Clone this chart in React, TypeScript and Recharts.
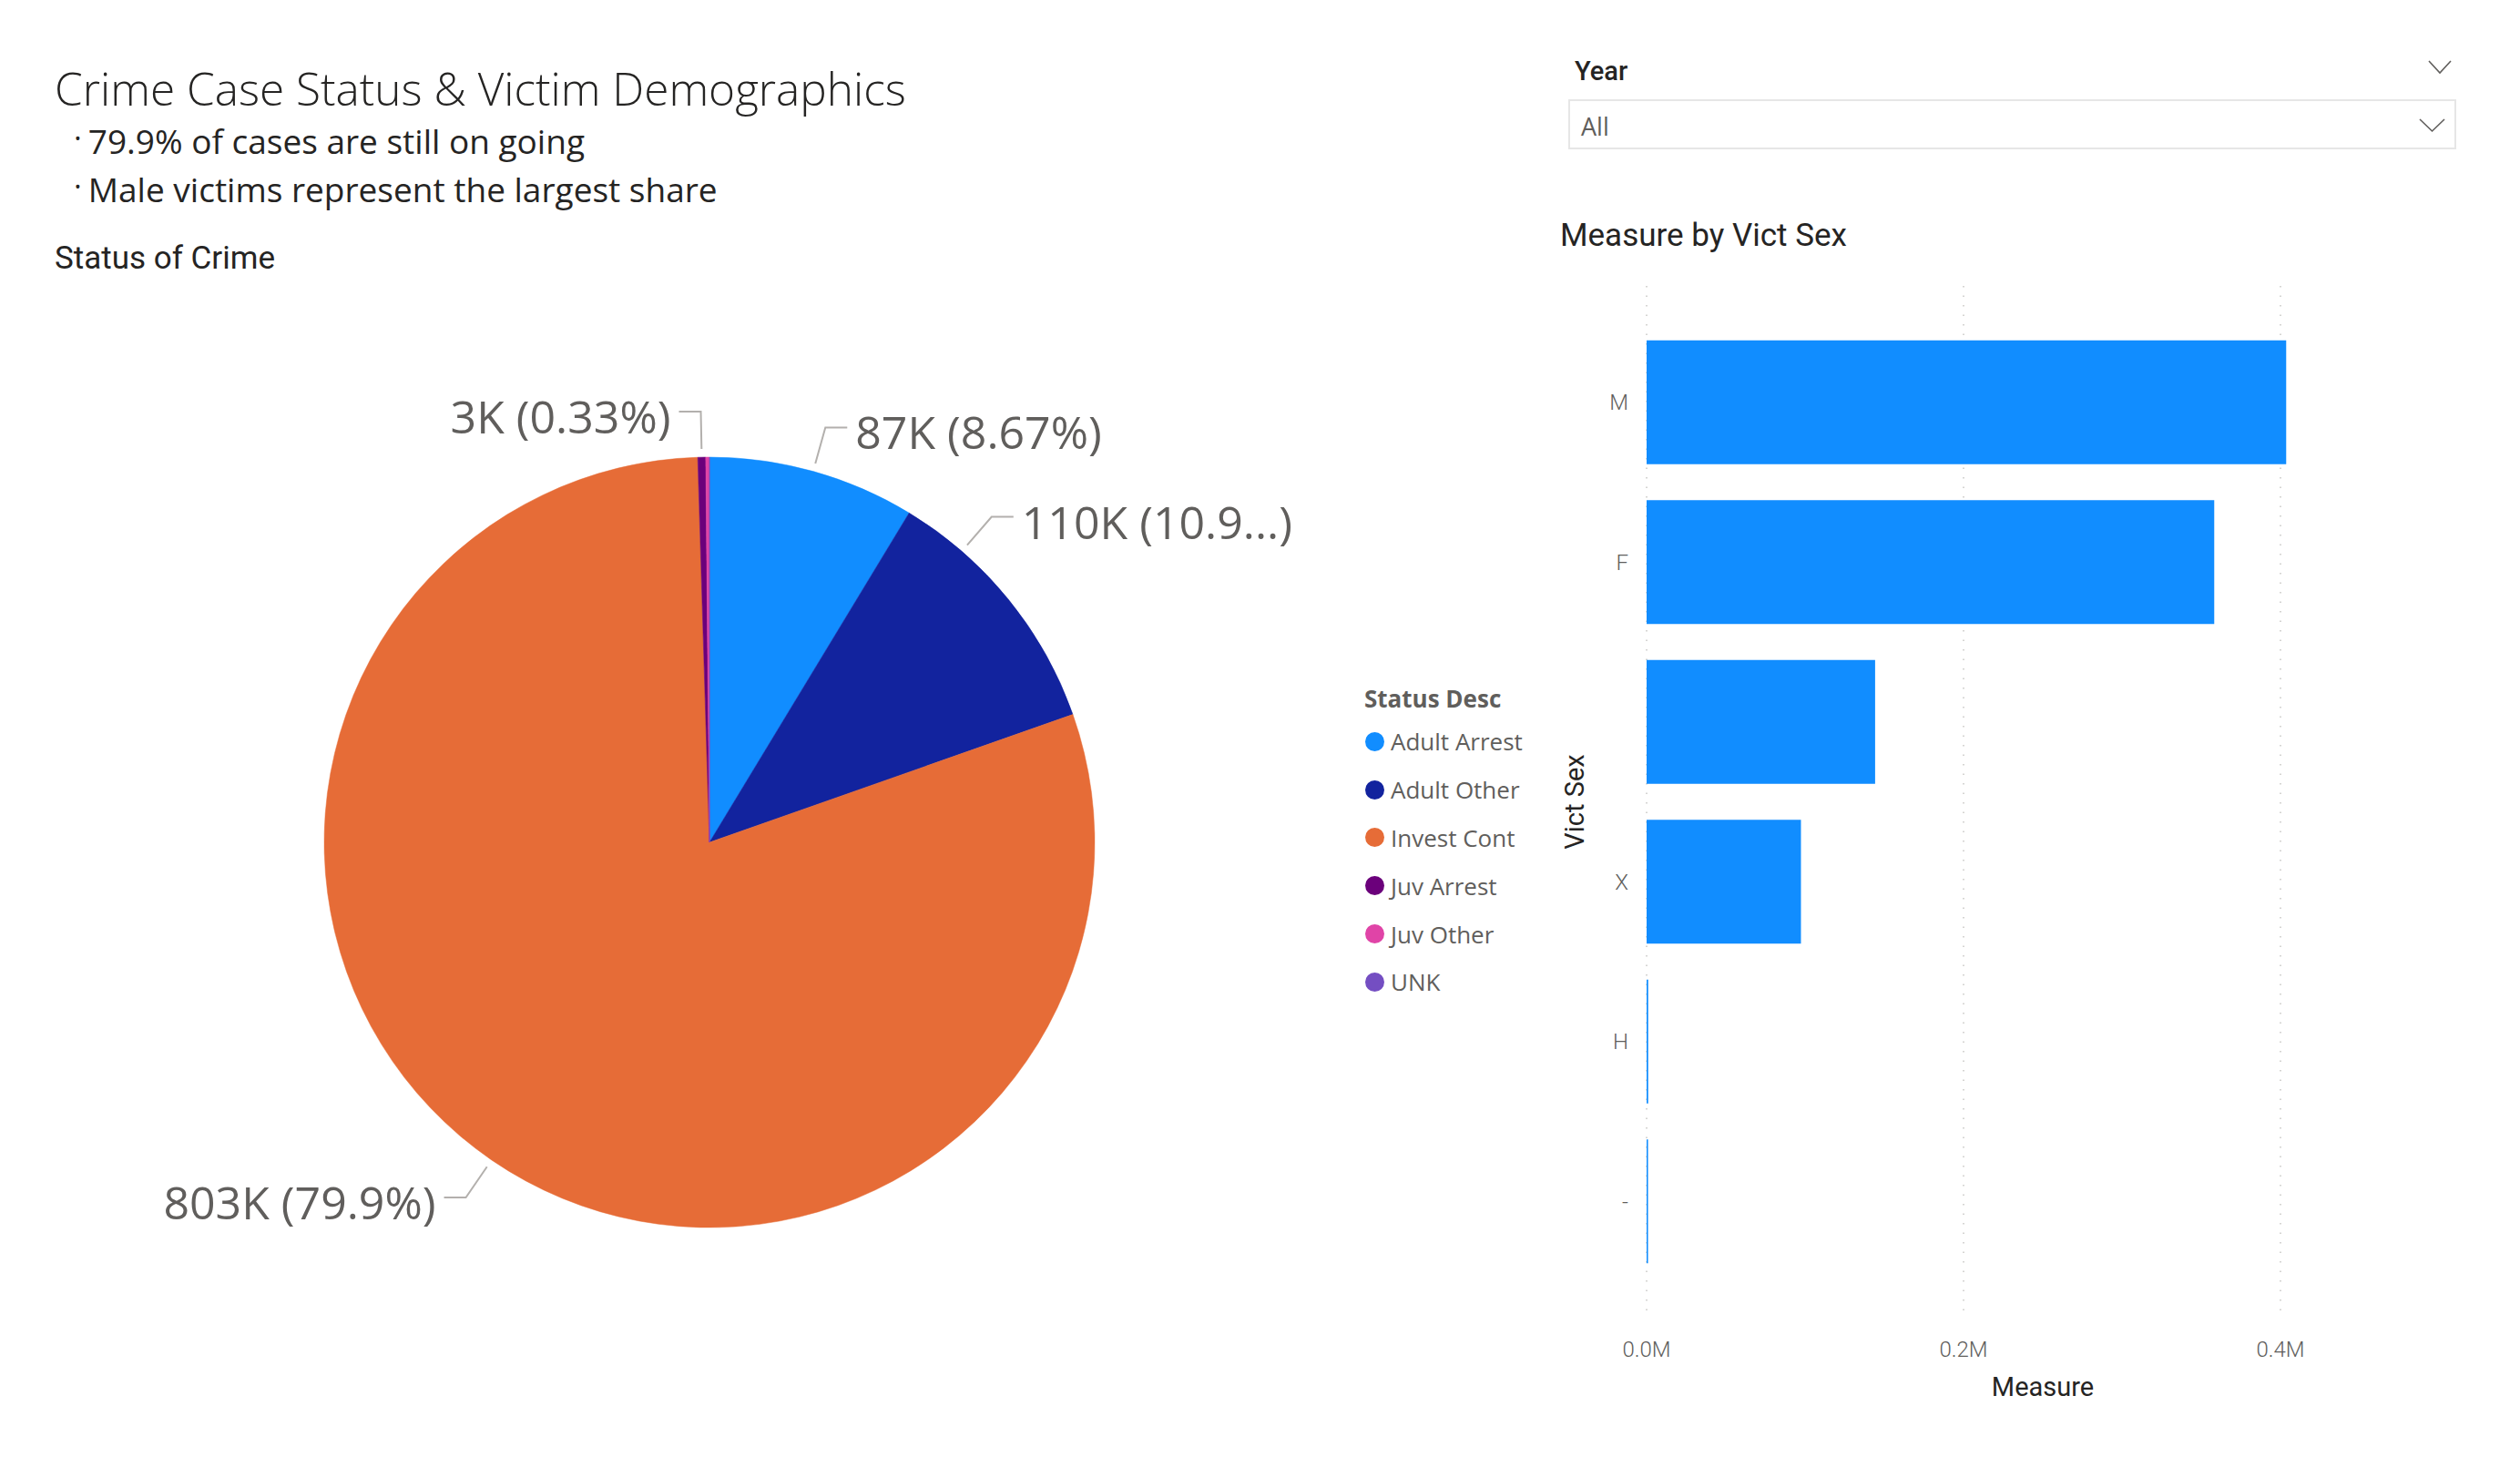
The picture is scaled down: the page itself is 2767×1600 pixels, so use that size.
import React from "react";
import { PieChart, Pie, Cell, Legend, BarChart, Bar, XAxis, YAxis, CartesianGrid } from "recharts";

// ---------- data ----------
const statusNames = ["Adult Arrest", "Adult Other", "Invest Cont", "Juv Arrest", "Juv Other", "UNK"];
const statusCounts = [87150, 109950, 802950, 3300, 1550, 10];
const statusColors = ["#118DFF", "#12239E", "#E66C37", "#6B007B", "#E044A7", "#744EC2"];

const sexCategories = ["M", "F", "", "X", "H", "-"];
const sexMeasures = [403600, 358200, 144200, 97400, 1000, 900];
const measureTicks = [0, 200000, 400000];
const measureDomain = [0, 500000];

const headline = "Crime Case Status & Victim Demographics";
const bullets = ["79.9% of cases are still on going", "Male victims represent the largest share"];
const pieTitle = "Status of Crime";
const barTitle = "Measure by Vict Sex";
const legendTitle = "Status Desc";
const slicerTitle = "Year";
const slicerValue = "All";

const pieData = statusNames.map((name, i) => ({ name, value: statusCounts[i], color: statusColors[i] }));
const barData = sexCategories.map((sex, i) => ({ sex, measure: sexMeasures[i] }));

// ---------- styles ----------
const SANS = "'Segoe UI', 'Open Sans', sans-serif";
const DIN = "Roboto, 'Open Sans', sans-serif";
const DARK = "#252423";
const GRAY = "#605E5C";

const RAD = Math.PI / 180;
const LABEL_MIN_PERCENT = 0.003;
const LABEL_ANGLE_SHIFT: Record<string, number> = { "Adult Other": 10 };
const LABEL_RIGHT_LIMIT = 1430;
const LABEL_FONT = 50;

function fmtK(v: number) {
  return Math.round(v / 1000) + "K";
}
function fmtPct(p: number) {
  let s = (p * 100).toFixed(2);
  s = s.replace(/0+$/, "").replace(/\.$/, "");
  return s + "%";
}
function estimateWidth(s: string, size: number) {
  let w = 0;
  for (const ch of s) {
    if (/[0-9]/.test(ch)) w += 0.55;
    else if (ch === "K") w += 0.58;
    else if (ch === " ") w += 0.26;
    else if ("().".includes(ch)) w += 0.3;
    else if (ch === "%") w += 0.8;
    else w += 0.55;
  }
  return w * size;
}

const renderSliceLabel = (props: any) => {
  const { cx, cy, midAngle, outerRadius, value, percent } = props;
  const name = (props.payload && props.payload.name) || props.name;
  if (percent < LABEL_MIN_PERCENT) return null;
  const a = (midAngle + (LABEL_ANGLE_SHIFT[name] || 0)) * RAD;
  const c = Math.cos(-a);
  const s = Math.sin(-a);
  const r0 = outerRadius + 9;
  const r1 = outerRadius + 50;
  const x0 = cx + r0 * c;
  const y0 = cy + r0 * s;
  const x1 = cx + r1 * c;
  const y1 = cy + r1 * s;
  const right = c >= 0;
  const x2 = x1 + (right ? 24 : -24);
  const tx = x2 + (right ? 9 : -9);
  let pct = fmtPct(percent);
  let text = `${fmtK(value)} (${pct})`;
  if (right) {
    while (tx + estimateWidth(text, LABEL_FONT) > LABEL_RIGHT_LIMIT && pct.length > 1) {
      pct = pct.slice(0, -1);
      text = `${fmtK(value)} (${pct}...)`;
    }
  }
  return (
    <g>
      <polyline points={`${x0},${y0} ${x1},${y1} ${x2},${y1}`} fill="none" stroke="#B3B0AD" strokeWidth={2} />
      <text
        x={tx}
        y={y1 + 5}
        textAnchor={right ? "start" : "end"}
        dominantBaseline="central"
        fill={GRAY}
        fontSize={LABEL_FONT}
        fontFamily={SANS}
        fontWeight={400}
      >
        {text}
      </text>
    </g>
  );
};

const renderLegend = (props: any) => {
  const items =
    props.payload && props.payload.length
      ? props.payload.map((p: any) => ({ name: p.value, color: p.color }))
      : pieData;
  return (
    <div style={{ fontFamily: SANS, color: GRAY }}>
      <div style={{ fontSize: 26, fontWeight: 700, height: 42, lineHeight: "42px" }}>{legendTitle}</div>
      {items.map((it: any) => (
        <div key={it.name} style={{ display: "flex", alignItems: "center", height: 52.8 }}>
          <span
            style={{
              display: "inline-block",
              width: 21,
              height: 21,
              borderRadius: "50%",
              background: it.color,
              marginLeft: 1,
              marginRight: 7,
            }}
          />
          <span style={{ fontSize: 26, lineHeight: "30px" }}>{it.name}</span>
        </div>
      ))}
    </div>
  );
};

const Chevron = ({ x, y, w, h }: { x: number; y: number; w: number; h: number }) => (
  <svg style={{ position: "absolute", left: x - 2, top: y - 2 }} width={w + 4} height={h + 4}>
    <polyline
      points={`2,2 ${2 + w / 2},${2 + h} ${2 + w},2`}
      fill="none"
      stroke={GRAY}
      strokeWidth={1.6}
    />
  </svg>
);

const XTitle = (props: any) => {
  const vb = props.viewBox || { x: 0, y: 0, width: 0, height: 0 };
  return (
    <text
      x={vb.x + vb.width / 2}
      y={vb.y + 76}
      textAnchor="middle"
      dominantBaseline="central"
      fill={DARK}
      fontSize={29}
      fontFamily={DIN}
    >
      Measure
    </text>
  );
};

const YTitle = (props: any) => {
  const vb = props.viewBox || { x: 0, y: 0, width: 0, height: 0 };
  const x = vb.x + 49;
  const y = vb.y + vb.height / 2;
  return (
    <text
      x={x}
      y={y}
      transform={`rotate(-90 ${x} ${y})`}
      textAnchor="middle"
      dominantBaseline="central"
      fill={DARK}
      fontSize={29}
      fontFamily={DIN}
    >
      Vict Sex
    </text>
  );
};

const gridXGenerator = (props: any) => {
  const xAxis = props && props.xAxis;
  if (xAxis && typeof xAxis.scale === "function") {
    return measureTicks.map((t) => xAxis.scale(t));
  }
  const off = (props && props.offset) || { left: 0, width: 0 };
  return measureTicks.map((t) => off.left + ((t - measureDomain[0]) / (measureDomain[1] - measureDomain[0])) * off.width);
};

const abs = (left: number, top: number, extra: React.CSSProperties = {}): React.CSSProperties => ({
  position: "absolute",
  left,
  top,
  whiteSpace: "nowrap",
  ...extra,
});

export default function App() {
  return (
    <div
      style={{
        position: "fixed",
        left: 0,
        top: 0,
        width: 2767,
        height: 1600,
        background: "#FFFFFF",
        overflow: "hidden",
        fontFamily: SANS,
      }}
    >
      {/* Pie chart */}
      <div style={abs(0, 0)}>
        <PieChart width={1680} height={1600} margin={{ top: 0, right: 0, bottom: 0, left: 0 }}>
          <Pie
            data={pieData}
            dataKey="value"
            nameKey="name"
            cx={779}
            cy={925}
            outerRadius={423}
            startAngle={90}
            endAngle={-270}
            stroke="none"
            isAnimationActive={false}
            label={renderSliceLabel}
            labelLine={false}
          >
            {pieData.map((d) => (
              <Cell key={d.name} fill={d.color} stroke={d.color} strokeWidth={0.5} />
            ))}
          </Pie>
          <Legend
            layout="vertical"
            align="right"
            verticalAlign="top"
            content={renderLegend}
            wrapperStyle={{ left: 1498, top: 746, right: "auto", width: 180 }}
          />
        </PieChart>
      </div>

      {/* Bar chart */}
      <div style={abs(1680, 290)}>
        <BarChart
          width={1087}
          height={1300}
          data={barData}
          layout="vertical"
          margin={{ top: 24, right: 89, bottom: 43, left: 0 }}
          barCategoryGap="11.25%"
        >
          <CartesianGrid
            horizontal={false}
            vertical
            stroke="#C8C6C4"
            strokeDasharray="1.5 9"
            strokeWidth={1.5}
            verticalCoordinatesGenerator={gridXGenerator}
          />
          <XAxis
            type="number"
            dataKey="measure"
            domain={measureDomain}
            ticks={measureTicks}
            tickFormatter={(v: number) => (v / 1000000).toFixed(1) + "M"}
            axisLine={false}
            tickLine={false}
            tickSize={0}
            tickMargin={26}
            height={100}
            tick={{ fill: GRAY, fontSize: 24, fontFamily: DIN, fontWeight: 300 }}
            label={{ content: XTitle }}
          />
          <YAxis
            type="category"
            dataKey="sex"
            width={128}
            axisLine={false}
            tickLine={false}
            tickSize={0}
            tickMargin={20}
            padding={{ top: 40, bottom: 40 }}
            tick={{ fill: GRAY, fontSize: 24, fontFamily: DIN, fontWeight: 300 }}
            label={{ content: YTitle }}
          />
          <Bar dataKey="measure" fill="#118DFF" isAnimationActive={false} />
        </BarChart>
      </div>

      {/* Page text */}
      <div style={abs(60, 97 - 33, { fontSize: 49.5, fontWeight: 300, color: DARK, lineHeight: "66px" })}>{headline}</div>
      {bullets.map((b, i) => (
        <div key={b} style={abs(82, 152 + i * 53 - 25, { fontSize: 37, fontWeight: 400, color: DARK, lineHeight: "50px" })}>
          <span style={{ fontSize: 18, verticalAlign: "10px", marginRight: 8 }}>•</span>
          {b}
        </div>
      ))}
      <div style={abs(60, 284 - 22, { fontSize: 35, fontFamily: DIN, color: DARK, lineHeight: "44px" })}>{pieTitle}</div>
      <div style={abs(1713, 259 - 22, { fontSize: 35, fontFamily: DIN, color: DARK, lineHeight: "44px" })}>{barTitle}</div>

      {/* Year slicer */}
      <div style={abs(1729, 78 - 18, { fontSize: 29, fontFamily: DIN, fontWeight: 500, color: DARK, lineHeight: "36px" })}>
        {slicerTitle}
      </div>
      <Chevron x={2667} y={67} w={24} h={13} />
      <div
        style={abs(1722, 109, {
          width: 975,
          height: 55,
          boxSizing: "border-box",
          border: "2px solid #E6E6E6",
        })}
      />
      <div style={abs(1736, 139 - 18, { fontSize: 27, color: GRAY, lineHeight: "36px" })}>{slicerValue}</div>
      <Chevron x={2657} y={131} w={27} h={13} />
    </div>
  );
}
